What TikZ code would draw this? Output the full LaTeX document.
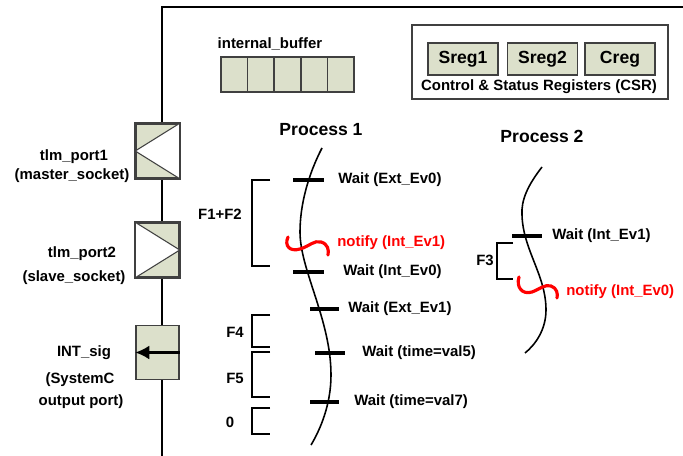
\documentclass[tikz,border=0pt]{standalone}
\usepackage{fontspec}
\setmainfont{Liberation Sans}
\usetikzlibrary{arrows.meta}
\definecolor{boxfill}{RGB}{220,224,203}
\definecolor{boxline}{RGB}{64,64,64}
\tikzset{
  lbl/.style={font=\bfseries\fontsize{8.5}{10}\selectfont, inner sep=0pt},
  title/.style={font=\bfseries\fontsize{10}{12}\selectfont, inner sep=0pt},
  portbox/.style={draw=boxline, fill=boxfill, line width=0.9pt, minimum width=0.86cm, minimum height=1.08cm, inner sep=0pt},
  portedge/.style={draw=boxline, line width=0.9pt},
  regbox/.style={draw=boxline, fill=boxfill, line width=0.8pt, minimum width=1.4cm, minimum height=0.64cm, inner sep=0pt, font=\bfseries\fontsize{10}{12}\selectfont},
  cellbox/.style={draw=boxline, fill=boxfill, line width=0.8pt, minimum width=0.532cm, minimum height=0.7cm, inner sep=0pt},
  waitbar/.style={line width=2.3pt},
  notifyline/.style={red, line width=1.8pt, line cap=round},
  procline/.style={line width=0.9pt},
  bracket/.style={line width=0.9pt}
}
\begin{document}
\begin{tikzpicture}[x=0.02cm, y=-0.02cm]
  \useasboundingbox (0,0) rectangle (683,456);
  % Modulo (contorno aperto)
  \draw[line width=1.1pt] (162,456) -- (162,7) -- (683,7);
  % Porte
  \node[portbox] (port1) at (157.5,151) {};
  \fill[white, draw=boxline, line width=0.6pt] (port1.north east) -- (port1.west) -- (port1.south east);
  \draw[portedge] (port1.north west) rectangle (port1.south east);
  \node[portbox] (port2) at (157.5,250) {};
  \fill[white, draw=boxline, line width=0.6pt] (port2.north west) -- (port2.east) -- (port2.south west);
  \draw[portedge] (port2.north west) rectangle (port2.south east);
  \node[portbox] (intsig) at (157.5,352.5) {};
  \draw[line width=1.4pt, -{Latex[length=8pt,width=8pt]}] (intsig.east) -- (intsig.west);
  % Etichette delle porte
  \node[lbl] (port1a) at (74,157) {tlm\_port1};
  \node[lbl] (port1b) at (72,176) {(master\_socket)};
  \node[lbl] (port2a) at (82,254) {tlm\_port2};
  \node[lbl] (port2b) at (74,278) {(slave\_socket)};
  \node[lbl] (intsiga) at (84,353) {INT\_sig};
  \node[lbl] (intsigb) at (80,380) {(SystemC};
  \node[lbl] (intsigc) at (81,402) {output port)};
  % Buffer interno
  \node[lbl] (buflbl) at (270,44) {internal\_buffer};
  \foreach \i in {0,...,4}
    \node[cellbox] (cell\i) at (234.3+26.6*\i,74.5) {};
  % Registri CSR
  \draw[boxline, line width=0.8pt] (412,25) rectangle (668,99);
  \node[regbox] (sreg1) at (463,59) {Sreg1};
  \node[regbox] (sreg2) at (542.5,59) {Sreg2};
  \node[regbox] (creg) at (620,59) {Creg};
  \node[lbl] (csr) at (539,87) {Control \& Status Registers (CSR)};
  % Processo 1
  \node[title] (proc1) at (321,130) {Process 1};
  \draw[procline] (322,148) .. controls (308,175) and (300,205) .. (300,232)
    .. controls (300,270) and (331,320) .. (331,375)
    .. controls (331,405) and (320,430) .. (311,445);
  \draw[waitbar] (293,180) -- (324,180);
  \node[lbl, anchor=west] (w1) at (338,180) {Wait (Ext\_Ev0)};
  \draw[notifyline] (288,237) .. controls (284,246) and (290,252) .. (300,249)
    .. controls (310,246) and (314,240) .. (321,242)
    .. controls (328,244) and (329,250) .. (328,255);
  \node[lbl, anchor=west, red] (n1) at (337,243) {notify (Int\_Ev1)};
  \draw[waitbar] (293,272) -- (324,272);
  \node[lbl, anchor=west] (w2) at (343,272) {Wait (Int\_Ev0)};
  \draw[waitbar] (310,309) -- (339,309);
  \node[lbl, anchor=west] (w3) at (348,309) {Wait (Ext\_Ev1)};
  \draw[waitbar] (315,353) -- (345,353);
  \node[lbl, anchor=west] (w4) at (362,353) {Wait (time=val5)};
  \draw[waitbar] (310,402) -- (339,402);
  \node[lbl, anchor=west] (w5) at (354,402) {Wait (time=val7)};
  % Parentesi di durata
  \draw[bracket] (270,180) -- (252,180) -- (252,266) -- (270,266);
  \node[lbl] (f12) at (220,214) {F1+F2};
  \draw[bracket] (270,315) -- (252,315) -- (252,347) -- (270,347);
  \node[lbl] (f4) at (235,332) {F4};
  \draw[bracket] (270,352) -- (252,352) -- (252,397) -- (270,397);
  \node[lbl] (f5) at (235,378) {F5};
  \draw[bracket] (270,408) -- (252,408) -- (252,434) -- (270,434);
  \node[lbl] (f0) at (230,422) {0};
  % Processo 2
  \node[title] (proc2) at (542,136) {Process 2};
  \draw[procline] (542,167) .. controls (528,185) and (521,200) .. (522,215)
    .. controls (523,250) and (546,275) .. (546,310)
    .. controls (546,330) and (535,345) .. (525,353);
  \draw[waitbar] (512,236) -- (542,236);
  \node[lbl, anchor=west] (w6) at (552,236) {Wait (Int\_Ev1)};
  \draw[notifyline] (519,277) .. controls (516,287) and (522,295) .. (532,292)
    .. controls (540,289) and (545,284) .. (551,286)
    .. controls (557,288) and (558,294) .. (557,298);
  \node[lbl, anchor=west, red] (n2) at (566,292) {notify (Int\_Ev0)};
  \draw[bracket] (513,243) -- (497,243) -- (497,279) -- (513,279);
  \node[lbl] (f3) at (485,260) {F3};
\end{tikzpicture}
\end{document}
